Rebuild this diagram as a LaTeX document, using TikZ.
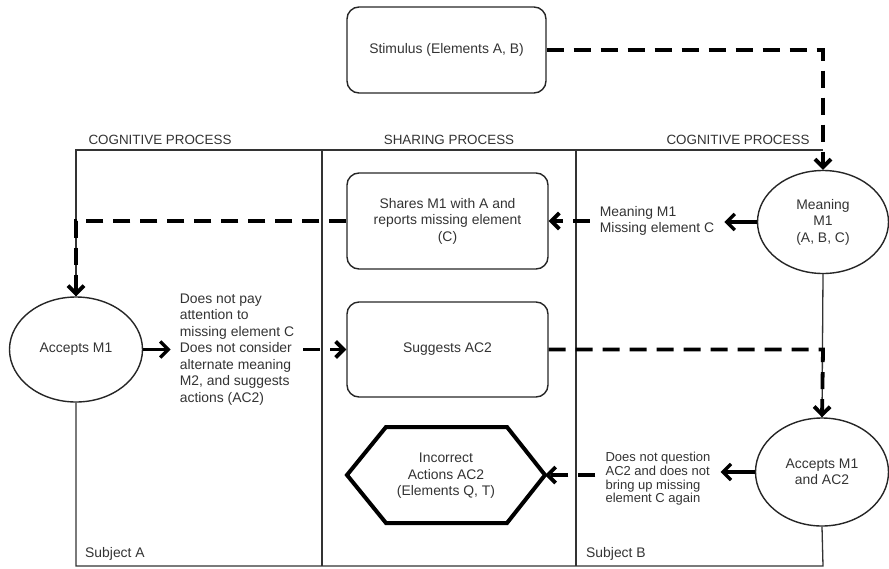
\documentclass[tikz,border=0pt]{standalone}
\usepackage{fontspec}
\setmainfont{Liberation Sans}
\usetikzlibrary{shapes.geometric,arrows.meta}

\begin{document}
\begin{tikzpicture}[x=1pt,y=-1pt,
  every node/.style={font=\fontsize{13.9pt}{16.5pt}\selectfont, text=black!80, inner sep=0pt},
  frame/.style={draw=black!80, line width=1.3pt},
  box/.style={draw=black!85, line width=1.4pt, rounded corners=12pt, align=center},
  oval/.style={ellipse, draw=black!85, line width=1.4pt, align=center},
  hexline/.style={draw=black, line width=4pt, line join=miter},
  tip/.style={-{Straight Barb[length=8pt,width=16pt]}},
  flow/.style={tip, line width=3.8pt, dash pattern=on 17pt off 10pt},
  link/.style={tip, line width=3.4pt},
  note/.style={align=left, inner xsep=10pt, inner ysep=2pt},
  header/.style={font=\fontsize{13.4pt}{15pt}\selectfont}
]
\useasboundingbox (0,0) rectangle (889,568);

% swimlane frame
\coordinate (tl) at (76,150);
\coordinate (tr) at (823,150);
\coordinate (bl) at (76,566);
\coordinate (br) at (823,566);
\coordinate (d1t) at (322,150);
\coordinate (d1b) at (322,566);
\coordinate (d2t) at (576,150);
\coordinate (d2b) at (576,566);

% lane headers and subject labels
\node[header] (hcogA) at (160,140) {COGNITIVE PROCESS};
\node[header] (hshare) at (449,140) {SHARING PROCESS};
\node[header] (hcogB) at (738,140) {COGNITIVE PROCESS};
\node[anchor=west] (subA) at (85,554) {Subject A};
\node[anchor=west] (subB) at (586,554) {Subject B};

% nodes
\node[box, minimum width=199pt, minimum height=86pt] (stim) at (446.5,50) {Stimulus (Elements A, B)};
\node[oval, minimum width=131pt, minimum height=103pt] (meaning) at (823,222) {Meaning\\M1\\(A, B, C)};
\node[note] (lblM) at (657,221) {Meaning M1\\Missing element C};
\node[box, minimum width=201pt, minimum height=96pt] (shares) at (447.5,221) {Shares M1 with A and\\reports missing element\\(C)};
\node[oval, minimum width=133pt, minimum height=105pt] (accA) at (76,349.5) {Accepts M1};
\node[note, inner xsep=9pt] (lblA) at (237,349.5) {Does not pay\\attention to\\missing element C\\Does not consider\\alternate meaning\\M2, and suggests\\actions (AC2)};
\node[box, minimum width=201pt, minimum height=95pt] (suggest) at (447.5,349.5) {Suggests AC2};
\node[oval, minimum width=133pt, minimum height=108pt] (accB) at (822,472) {Accepts M1\\and AC2};
\node[note, font=\fontsize{13pt}{13.7pt}\selectfont] (lblB) at (658,479) {Does not question\\AC2 and does not\\bring up missing\\element C again};

% hexagon outcome
\coordinate (hexL) at (347,475);
\coordinate (hexR) at (545,475);
\draw[hexline] (hexL) -- (386,427) -- (507,427) -- (hexR) -- (507,523) -- (386,523) -- cycle;
\node[align=center] (hex) at (446,476) {Incorrect\\Actions AC2\\(Elements Q, T)};

% frame lines
\draw[frame] (accB.south) -- (br) -- (bl) -- (accA.south);
\draw[frame] (accA.north) -- (tl) -- (tr);
\draw[frame] (d1t) -- (d1b);
\draw[frame] (d2t) -- (d2b);
\draw[frame] (meaning.south) -- (accB.north);

% connectors
\coordinate (c1) at (823,50);
\coordinate (c2) at (76,221);
\coordinate (c3) at (823,349.5);
\draw[flow] (stim.east) -- (c1) -- (meaning.north);
\draw[link] (meaning.west) -- (meaning.west -| lblM.east);
\draw[flow] (lblM.west) -- (lblM.west -| shares.east);
\draw[flow] (shares.west) -- (c2) -- (accA.north);
\draw[link] (accA.east) -- (accA.east -| lblA.west);
\draw[flow] (lblA.east |- accA.east) -- (suggest.west);
\draw[flow] (suggest.east) -- (c3) -- (accB.north);
\draw[link] (accB.west) -- (accB.west -| lblB.east);
\draw[flow] (lblB.west |- hexR) -- (hexR);
\end{tikzpicture}
\end{document}
